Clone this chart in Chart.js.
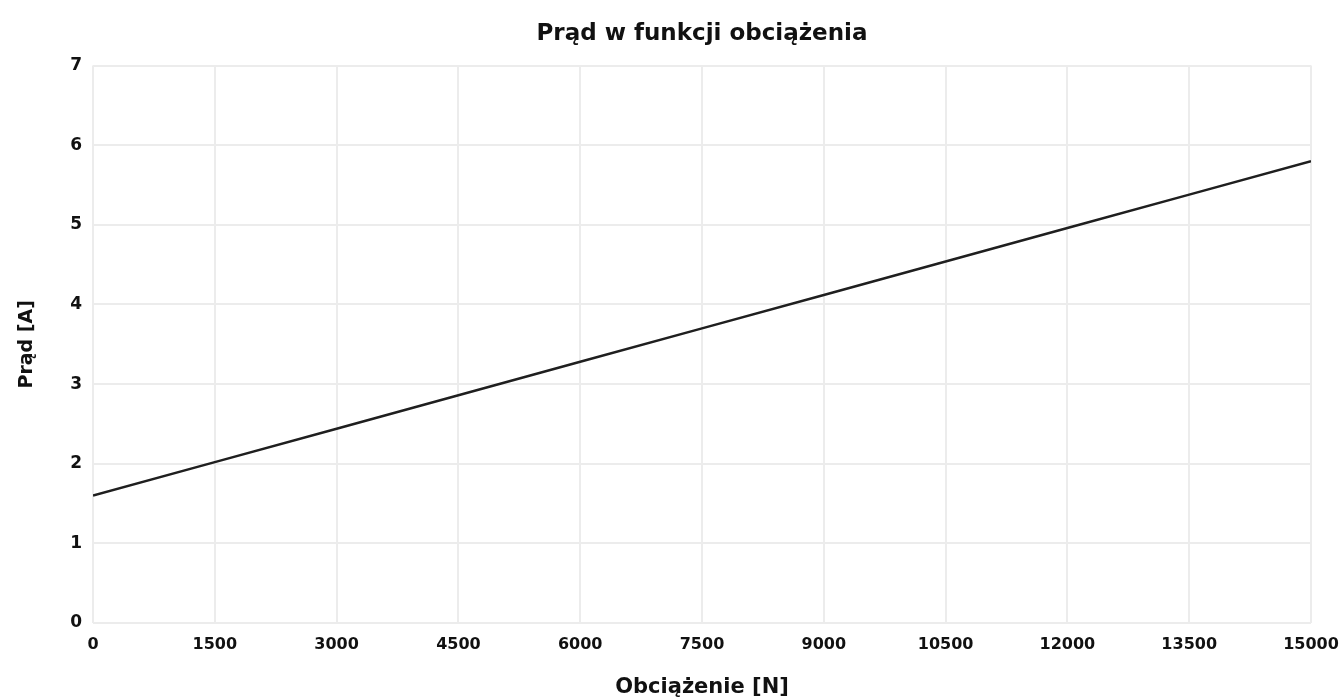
<!DOCTYPE html>
<html>
<head>
<meta charset="utf-8">
<script src="https://cdn.jsdelivr.net/npm/chart.js@4.4.1/dist/chart.umd.min.js"></script>
<style>
  html, body { margin:0; padding:0; background:#fff; }
  #wrap { width:1339px; height:700px; }
</style>
</head>
<body>
<div id="wrap"><canvas id="chart"></canvas></div>
<script>
// DATA

const loads = [0,1500,3000,4500,6000,7500,9000,10500,12000,13500,15000];
const currents = [1.6,2.02,2.44,2.86,3.28,3.7,4.12,4.54,4.96,5.38,5.8];

const xTicks = [0,1500,3000,4500,6000,7500,9000,10500,12000,13500,15000];
const yTicks = [0,1,2,3,4,5,6,7];

const fontFam = "'DejaVu Sans', sans-serif";

// CHART

const ctx = document.getElementById('chart');
new Chart(ctx, {
  type:'line',
  data:{
    datasets:[{
      data: loads.map((x,i)=>({x:x, y:currents[i]})),
      borderColor:'#1f1f1f',
      borderWidth:2.5,
      pointRadius:0,
      tension:0,
      fill:false
    }]
  },
  options:{
    responsive:true,
    maintainAspectRatio:false,
    animation:false,
    layout:{ padding:{ left:0, right:0, top:0, bottom:0 } },
    plugins:{
      legend:{ display:false },
      tooltip:{ enabled:false },
      title:{
        display:true,
        fullSize:false,
        text:'Prąd w funkcji obciążenia',
        color:'#111',
        font:{ family:fontFam, size:23, weight:'bold' },
        padding:{ top:20, bottom:18 }
      }
    },
    scales:{
      x:{
        type:'linear',
        min:0, max:15000,
        afterBuildTicks: s => { s.ticks = xTicks.map(v=>({value:v})); },
        afterFit: s => { s.height = 77; s.paddingRight = 28; },
        grid:{ color:'#ececec', lineWidth:2, drawTicks:false },
        border:{ display:false },
        ticks:{
          color:'#111',
          padding:12,
          maxRotation:0,
          autoSkip:false,
          callback: v => String(v),
          font:{ family:fontFam, size:16, weight:'bold' }
        },
        title:{
          display:true,
          text:'Obciążenie [N]',
          color:'#111',
          font:{ family:fontFam, size:21, weight:'bold' },
          padding:{ top:10, bottom:0 }
        }
      },
      y:{
        min:0, max:7,
        afterBuildTicks: s => { s.ticks = yTicks.map(v=>({value:v})); },
        afterFit: s => { s.width = 93; },
        grid:{ color:'#ececec', lineWidth:2, drawTicks:false },
        border:{ display:false },
        ticks:{
          color:'#111',
          padding:11,
          font:{ family:fontFam, size:17, weight:'bold' }
        },
        title:{
          display:true,
          text:'Prąd [A]',
          color:'#111',
          font:{ family:fontFam, size:19, weight:'bold' },
          padding:{ top:16, bottom:18 }
        }
      }
    }
  }
});
</script>
</body>
</html>
